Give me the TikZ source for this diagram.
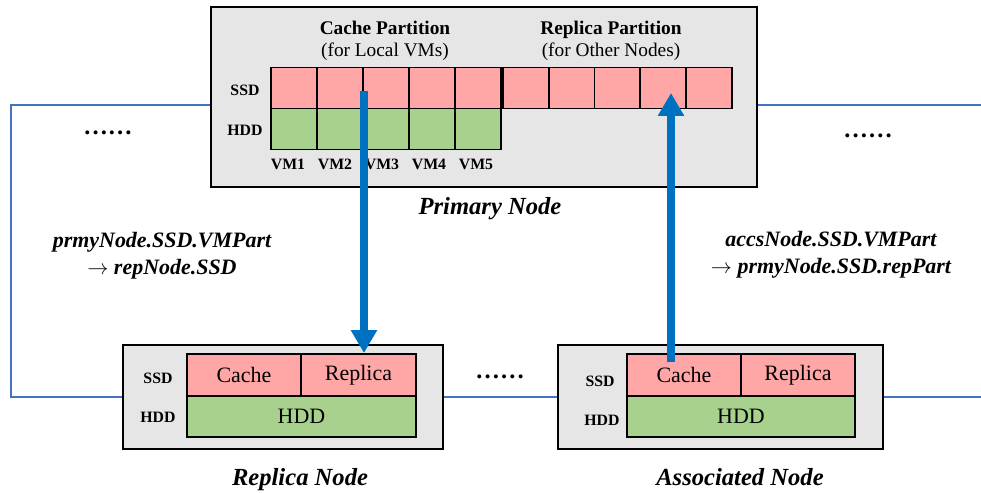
\documentclass[tikz,border=0pt]{standalone}
\usepackage{fontspec}
\setmainfont{Liberation Serif}
\usetikzlibrary{arrows.meta}
\definecolor{ssdpink}{RGB}{255,166,166}
\definecolor{hddgreen}{RGB}{169,209,142}
\definecolor{boxgray}{RGB}{230,230,230}
\definecolor{linkblue}{RGB}{68,114,196}
\definecolor{arrowblue}{RGB}{0,112,192}
\tikzset{
  nodebox/.style={draw, line width=1.2pt, fill=boxgray, inner sep=0pt, minimum height=2.08cm},
  ssdcell/.style={draw, line width=1.1pt, fill=ssdpink, inner sep=0pt, minimum width=0.92cm, minimum height=0.82cm},
  hddcell/.style={ssdcell, fill=hddgreen},
  rowlabel/.style={font=\fontsize{9}{11}\selectfont\bfseries},
  vmlabel/.style={font=\fontsize{9}{11}\selectfont\bfseries},
  parttitle/.style={align=center, font=\fontsize{11}{12.5}\selectfont},
  nodetitle/.style={font=\fontsize{14}{17}\selectfont\bfseries\itshape},
  flowlabel/.style={align=center, font=\fontsize{12.5}{15.3}\selectfont\bfseries\itshape},
  celltext/.style={font=\fontsize{12.5}{15}\selectfont},
  dotsep/.style={font=\fontsize{14}{16}\selectfont\bfseries},
  link/.style={draw=linkblue, line width=1.7pt},
  bigarrow/.style={draw=arrowblue, line width=4.5pt, -{Triangle[length=0.46cm,width=0.5cm]}}
}
\begin{document}
\begin{tikzpicture}[x=0.02cm,y=-0.02cm]
\useasboundingbox (0,0) rectangle (981,493);
% primary node
\node[nodebox, minimum width=10.92cm, minimum height=3.6cm] (prmy) at (484,97) {};
\node[parttitle] (cachetitle) at (385,41) {\textbf{Cache Partition}\\(for Local VMs)};
\node[parttitle] (reptitle) at (611,41) {\textbf{Replica Partition}\\(for Other Nodes)};
\node[rowlabel] (pssd) at (245,90) {SSD};
\node[rowlabel] (phdd) at (245,130) {HDD};
\node[ssdcell] (ssd1) at (294,88) {};
\node[ssdcell] (ssd2) at (340,88) {};
\node[ssdcell] (ssd3) at (386,88) {};
\node[ssdcell] (ssd4) at (432,88) {};
\node[ssdcell] (ssd5) at (478,88) {};
\node[hddcell] (hdd1) at (294,129) {};
\node[hddcell] (hdd2) at (340,129) {};
\node[hddcell] (hdd3) at (386,129) {};
\node[hddcell] (hdd4) at (432,129) {};
\node[hddcell] (hdd5) at (478,129) {};
\node[ssdcell] (rep1) at (526,88) {};
\node[ssdcell] (rep2) at (572,88) {};
\node[ssdcell] (rep3) at (617.5,88) {};
\node[ssdcell] (rep4) at (663,88) {};
\node[ssdcell] (rep5) at (709,88) {};
\node[vmlabel] (vm1) at (288,164) {VM1};
\node[vmlabel] (vm2) at (335,164) {VM2};
\node[vmlabel] (vm3) at (382,164) {VM3};
\node[vmlabel] (vm4) at (429,164) {VM4};
\node[vmlabel] (vm5) at (476,164) {VM5};
\node[nodetitle] (prmytitle) at (490,209) {Primary Node};
% replica node
\node[nodebox, minimum width=6.4cm] (rnode) at (283,397) {};
\node[rowlabel] (rssd) at (158,378) {SSD};
\node[rowlabel] (rhdd) at (158,417) {HDD};
\node[ssdcell, celltext, minimum width=2.28cm, minimum height=0.84cm] (rcache) at (244,375) {Cache};
\node[ssdcell, celltext, minimum width=2.3cm, minimum height=0.84cm] (rrep) at (358.5,375) {Replica};
\node[hddcell, celltext, minimum width=4.58cm] (rhddcell) at (301.5,416.5) {HDD};
\node[nodetitle] (rtitle) at (300,480) {Replica Node};
% associated node
\node[nodebox, minimum width=6.5cm] (anode) at (720.5,397) {};
\node[rowlabel] (assd) at (600,381) {SSD};
\node[rowlabel] (ahdd) at (602,420) {HDD};
\node[ssdcell, celltext, minimum width=2.28cm, minimum height=0.84cm] (acache) at (684,375) {Cache};
\node[ssdcell, celltext, minimum width=2.28cm, minimum height=0.84cm] (arep) at (798,375) {Replica};
\node[hddcell, celltext, minimum width=4.56cm] (ahddcell) at (741,416.5) {HDD};
\node[nodetitle] (atitle) at (740,477) {Associated Node};
% labels
\node[flowlabel] (downlabel) at (162,256) {prmyNode.SSD.VMPart\\$\rightarrow$ repNode.SSD};
\node[flowlabel] (uplabel) at (831,255) {accsNode.SSD.VMPart\\$\rightarrow$ prmyNode.SSD.repPart};
\node[dotsep] (ldots) at (108,133) {……};
\node[dotsep] (rdots) at (868,136) {……};
\node[dotsep] (mdots) at (500,377) {……};
% links
\draw[link] ([yshift=-0.16cm]prmy.west) -- ++(-199,0) |- (rnode.west);
\draw[link] ([yshift=-0.16cm]prmy.east) -- ++(224,0);
\draw[link] (rnode.east) -- (anode.west);
\draw[link] (anode.east) -- ++(98,0);
% data flows
\draw[bigarrow] ([yshift=-0.06cm]ssd2.east) -- (ssd2.east |- rrep.north);
\draw[bigarrow] ([xshift=-0.26cm,yshift=-0.18cm]acache.north) -- ([xshift=-0.26cm,yshift=-0.1cm]acache.north |- rep4.center);
\end{tikzpicture}
\end{document}
